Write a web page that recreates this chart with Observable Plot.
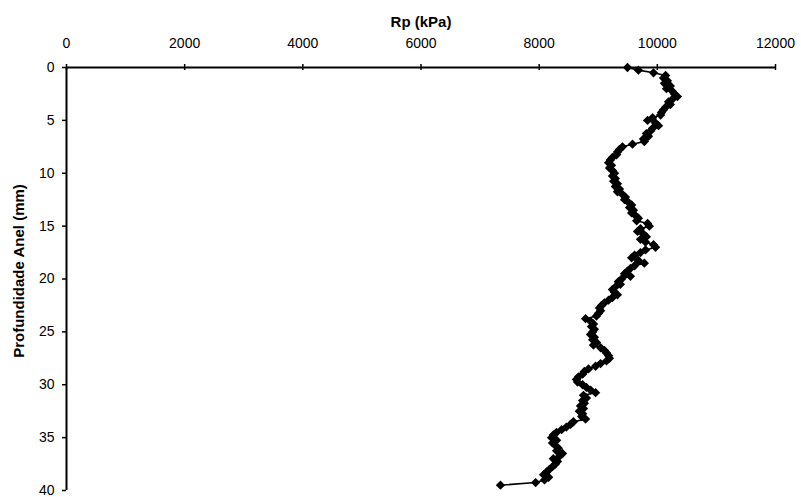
<!DOCTYPE html>
<html><head><meta charset="utf-8">
<script src="https://cdn.jsdelivr.net/npm/d3@7"></script>
<script src="https://cdn.jsdelivr.net/npm/@observablehq/plot@0.6"></script>
<style>
body{margin:0;background:#fff}
svg{font-family:"Liberation Sans",Arial,sans-serif}
</style>
</head><body><div id="chart"></div>
<script>
const depth = [0,0.25,0.5,0.75,1,1.25,1.5,1.75,2,2.25,2.5,2.75,3,3.25,3.5,3.75,4,4.25,4.5,4.75,
5,5.25,5.5,5.75,6,6.25,6.5,6.75,7,7.25,7.5,7.75,8,8.25,8.5,8.75,9,9.25,9.5,9.75,
10,10.25,10.5,10.75,11,11.25,11.5,11.75,12,12.25,12.5,12.75,13,13.25,13.5,13.75,14,14.25,14.5,14.75,
15,15.25,15.5,15.75,16,16.25,16.5,16.75,17,17.25,17.5,17.75,18,18.25,18.5,18.75,19,19.25,19.5,19.75,
20,20.25,20.5,20.75,21,21.25,21.5,21.75,22,22.25,22.5,22.75,23,23.25,23.5,23.75,24,24.25,24.5,24.75,
25,25.25,25.5,25.75,26,26.25,26.5,26.75,27,27.25,27.5,27.75,28,28.25,28.5,28.75,29,29.25,29.5,29.75,
30,30.25,30.5,30.75,31,31.25,31.5,31.75,32,32.25,32.5,32.75,33,33.25,33.5,33.75,34,34.25,34.5,34.75,
35,35.25,35.5,35.75,36,36.25,36.5,36.75,37,37.25,37.5,37.75,38,38.25,38.5,38.75,39,39.25,39.5];
const rp = [9495,9680,9935,10140,10105,10170,10120,10220,10155,10255,10290,10340,10255,10190,10220,10140,10105,10070,10055,9920,
9835,9970,10020,9920,9885,9815,9850,9765,9780,9580,9410,9360,9325,9310,9240,9205,9175,9225,9190,9240,
9275,9240,9290,9260,9325,9290,9360,9325,9410,9460,9445,9510,9565,9530,9595,9565,9630,9680,9650,9835,
9865,9715,9665,9765,9815,9715,9800,9935,9970,9800,9715,9615,9565,9680,9780,9615,9545,9495,9445,9545,
9395,9340,9375,9290,9240,9275,9325,9240,9175,9105,9055,9020,9040,9005,8970,8785,8870,8920,8885,8935,
8905,8870,8935,8905,8970,8920,9040,9105,9140,9175,9190,9140,9040,8955,8835,8765,8735,8665,8630,8650,
8735,8800,8870,8955,8750,8800,8735,8765,8700,8750,8680,8735,8720,8785,8580,8530,8460,8380,8295,8240,
8210,8295,8225,8275,8325,8295,8395,8345,8240,8310,8275,8225,8175,8125,8075,8160,8090,7940,7345];
const xTicks = [0,2000,4000,6000,8000,10000,12000];
const yTicks = [0,5,10,15,20,25,30,35,40];
const xLabel = "Rp (kPa)";
const yLabel = "Profundidade Anel (mm)";

const data = depth.map((d, i) => ({depth: d, rp: rp[i]}));

const chart = Plot.plot({
  width: 801, height: 497,
  marginLeft: 66, marginRight: 26, marginTop: 67, marginBottom: 7,
  style: {fontFamily: "'Liberation Sans', Arial, sans-serif", fontSize: "14px", color: "#000", background: "#fff", overflow: "visible"},
  x: {domain: [0, 12000], label: null},
  y: {domain: [0, 40], reverse: true, label: null},
  marks: [
    Plot.axisX(xTicks, {anchor: "top", tickSize: 4, tickPadding: 16, tickFormat: d => String(d), label: null, strokeWidth: 1.5, fontSize: 14}),
    Plot.axisX(xTicks, {anchor: "top", tickSize: -2, tickFormat: () => "", label: null, strokeWidth: 1.5}),
    Plot.axisY(yTicks, {anchor: "left", tickSize: 4, tickPadding: 8, tickFormat: d => String(d), label: null, strokeWidth: 1.5, fontSize: 14}),
    Plot.ruleY([0], {stroke: "#000", strokeWidth: 2}),
    Plot.ruleX([0], {stroke: "#000", strokeWidth: 2}),
    Plot.text([xLabel], {text: d => d, frameAnchor: "top", textAnchor: "middle", dy: -51, fontWeight: "bold", fontSize: 15}),
    Plot.text([yLabel], {text: d => d, frameAnchor: "left", textAnchor: "middle", dx: -47, dy: -8, rotate: -90, fontWeight: "bold", fontSize: 15}),
    Plot.line(data, {x: "rp", y: "depth", stroke: "#000", strokeWidth: 1.6}),
    Plot.dot(data, {x: "rp", y: "depth", symbol: "diamond2", r: 4.2, fill: "#000", stroke: "none"})
  ]
});
document.getElementById("chart").appendChild(chart);
</script>
</body></html>
